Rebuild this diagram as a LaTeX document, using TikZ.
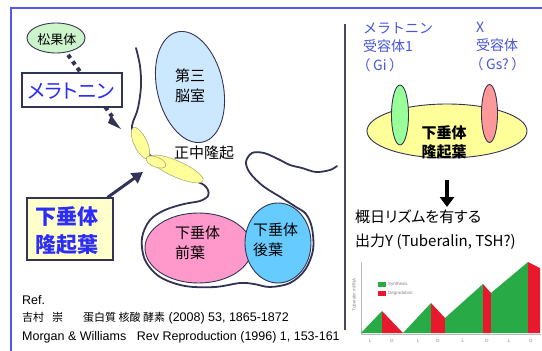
\documentclass[tikz,border=0pt]{standalone}
\usepackage{fontspec}
\setmainfont{Liberation Sans}
\newfontfamily\jp[RawFeature=+palt]{Noto Sans CJK JP}
\newfontfamily\jpw{Noto Sans CJK JP}
\usetikzlibrary{arrows.meta,shapes.geometric}

\definecolor{framecol}{RGB}{85,85,240}
\definecolor{inkcol}{RGB}{51,51,85}
\definecolor{txtblue}{RGB}{45,45,250}
\definecolor{rcpblue}{RGB}{70,85,220}
\definecolor{pinealfill}{RGB}{204,245,204}
\definecolor{ventfill}{RGB}{204,232,255}
\definecolor{mefill}{RGB}{255,255,153}
\definecolor{meedge}{RGB}{160,160,110}
\definecolor{antfill}{RGB}{255,153,204}
\definecolor{postfill}{RGB}{102,204,255}
\definecolor{boxfill}{RGB}{255,255,204}
\definecolor{mt1fill}{RGB}{153,255,153}
\definecolor{xfill}{RGB}{255,153,153}
\definecolor{synth}{RGB}{40,170,70}
\definecolor{degr}{RGB}{232,25,45}
\definecolor{axcol}{RGB}{185,185,185}

\newcommand{\fsz}[2]{\fontsize{#1}{#2}\selectfont}
% full-width brackets set tight to the left margin
\newcommand{\wparen}[1]{{\jp（}\hspace{3pt}#1\hspace{3pt}{\jp）}}

\tikzset{
  organ/.style={ellipse, draw=inkcol, line width=0.9pt, inner sep=0pt},
  meblob/.style={ellipse, draw=meedge, line width=0.5pt, fill=mefill, inner sep=0pt},
  jplabel/.style={inner sep=0pt, font=\jp\fsz{15}{20}, align=left},
  labelbox/.style={draw=inkcol, line width=1.2pt, inner sep=0pt},
  outline/.style={draw=inkcol, line width=1.8pt, line cap=round, line join=round},
  dotline/.style={draw=inkcol, line width=4pt, dash pattern=on 4pt off 4pt},
  fatarrow/.style={draw=inkcol, fill=inkcol, line width=3pt,
    -{Triangle[length=11pt,width=12pt]}},
  downarrow/.style={draw=black, fill=black, line width=4pt,
    -{Triangle[length=10pt,width=14pt]}},
  reftext/.style={inner sep=0pt, anchor=west, font=\fsz{12.5}{15}},
  rcptext/.style={inner sep=0pt, anchor=north west, align=left, text=rcpblue,
    font=\jpw\fsz{14}{18.5}},
  tiny/.style={inner sep=0pt, text=gray, font=\fsz{4.5}{5}},
}

\begin{document}
\begin{tikzpicture}[x=1pt,y=-1pt]
\useasboundingbox (0,0) rectangle (542,351);

% panel frame and divider
\draw[framecol, line width=2pt] (11,351) -- (11,7.5) -- (542,7.5);
\draw[inkcol!90, line width=2pt] (345,24) -- (345,330);

% ---------- left panel: brain section ----------
% outline of the hypothalamus floor and pituitary
\draw[outline] plot[smooth, tension=0.55] coordinates {
  (136,48) (140,66) (141,86) (138,108) (133,122) (132,129) (136,139)
  (143,148) (151,156) (167,170) (185,177) (198,182) (204,185) (208,190)
  (208,196) (200,201) (184,204) (165,210) (150,220) (142,238) (145,260)
  (160,277) (185,286) (215,287) (240,283) (254,284) (270,287) (290,283)
  (305,270) (313,250) (312,228) (306,214) (296,207) (282,198) (263,186)
  (250,173) (246,162) (252,153) (264,153) (278,159) (290,165) (302,168)
  (316,172) (330,170) (337,166)};

% third ventricle
\node[organ, fill=ventfill, minimum width=66pt, minimum height=113pt,
      rotate=13] (vent) at (190,87) {};
\node[jplabel, align=center] (ventlbl) at (190,86) {第三\\脳室};

% median eminence
\node[meblob, minimum width=13pt, minimum height=34pt, rotate=25] (me1) at (140.5,143) {};
\node[meblob, minimum width=58pt, minimum height=16pt, rotate=-24] (me3) at (176.5,169) {};
\node[meblob, minimum width=21pt, minimum height=10pt, rotate=-22] (me2) at (156,162) {};
\node[jplabel, anchor=west] (melbl) at (174,153) {正中隆起};

% pituitary lobes
\node[organ, fill=antfill, minimum width=107pt, minimum height=70pt] (ant) at (198.5,248) {};
\node[organ, fill=postfill, minimum width=66pt, minimum height=80pt] (post) at (278,243) {};
\node[jplabel, anchor=west] (antlbl) at (175,243) {下垂体\\前葉};
\node[jplabel, anchor=west] (postlbl) at (253,240) {下垂体\\後葉};

% pineal gland and melatonin
\node[organ, fill=pinealfill, minimum width=58pt, minimum height=30pt] (pineal) at (56,38) {};
\node[inner sep=0pt, font=\jp\fsz{13}{15}] (pineallbl) at (57,40) {松果体};
\coordinate (meltip) at (121,129);
\draw[dotline, shorten >=12pt, shorten <=3pt] (pineal) -- (meltip);
\path[fill=inkcol] (meltip) -- ++(-13,-6) -- ++(3,-8) -- cycle;
\node[labelbox, fill=white, minimum width=100pt, minimum height=34pt] (melbox) at (72,90) {};
\node[inner sep=0pt, text=txtblue, font=\jp\fsz{20}{22}] (mellbl) at (71,91) {メラトニン};

% pars tuberalis box and arrow
\node[labelbox, fill=boxfill, minimum width=86pt, minimum height=62pt] (ptbox) at (70,229) {};
\node[inner sep=0pt, text=txtblue, align=left, font=\jp\bfseries\fsz{21}{28}] (ptlbl) at (67,231) {下垂体\\隆起葉};
\coordinate (pttip) at (143,172);
\draw[fatarrow] ([xshift=-6pt]ptbox.north east) -- (pttip);

% references
\node[reftext] (ref0) at (22,300) {Ref.};
\node[reftext] (ref1) at (22,318) {{\jp\fsz{11}{15}吉村\hspace{8pt}崇\hspace{20pt}蛋白質 核酸 酵素} (2008) 53, 1865-1872};
\node[reftext] (ref2) at (22,337) {Morgan \& Williams\hspace{7pt} Rev Reproduction (1996) 1, 153-161};

% ---------- right panel: receptors ----------
\node[rcptext] (mt1lbl) at (363,22) {メラトニン\\受容体1\\\wparen{Gi}};
\node[rcptext] (xlbl) at (476,22) {X\\受容体\\\wparen{Gs?}};

\node[organ, fill=mefill, minimum width=160pt, minimum height=54pt] (tubR) at (447,131) {};
\node[organ, fill=mt1fill, minimum width=17pt, minimum height=60pt] (mt1) at (400,115) {};
\node[organ, fill=xfill, minimum width=16pt, minimum height=58pt] (xr) at (489.5,113.5) {};
\node[inner sep=0pt, align=center, font=\jp\bfseries\fsz{15}{19}] (tublbl) at (444,142) {下垂体\\隆起葉};

\node[inner sep=0pt, anchor=west, align=left, font=\jp\fsz{15}{24}] (outlbl) at (355,230) {概日リズムを有する\\出力Y (Tuberalin, TSH?)};
\draw[downarrow] (tubR.south) ++(0,22) -- (447,207);

% circadian profile of tuberalin mRNA
\draw[axcol, line width=0.6pt] (361,262) -- (361,334) -- (541,334);
\node[tiny, rotate=90] (ylbl) at (354,295) {Tuberalin mRNA};
\fill[synth] (361,333) -- (382,311) -- (382,333) -- cycle;
\fill[degr]  (382,311) -- (403,333) -- (382,333) -- cycle;
\fill[synth] (403,333) -- (431,303) -- (431,333) -- cycle;
\fill[degr]  (431,303) -- (445,318) -- (445,333) -- (431,333) -- cycle;
\fill[synth] (445,333) -- (445,318) -- (483,284) -- (483,333) -- cycle;
\fill[degr]  (483,284) -- (491,293) -- (491,333) -- (483,333) -- cycle;
\fill[synth] (491,333) -- (491,293) -- (528,262) -- (528,333) -- cycle;
\fill[degr]  (528,262) -- (540,268) -- (540,333) -- (528,333) -- cycle;
\fill[synth] (378,282) rectangle (386,286.5);
\fill[degr]  (378,291) rectangle (386,295.5);
\node[tiny, anchor=west] (synlbl) at (388,284.5) {Synthesis};
\node[tiny, anchor=west] (deglbl) at (388,293.5) {Degradation};
\foreach \xx/\tt in {370/L,392/D,418/L,438/D,463/L,487/D,509/L,531/D}
  \node[tiny] at (\xx,341) {\tt};
\end{tikzpicture}
\end{document}
